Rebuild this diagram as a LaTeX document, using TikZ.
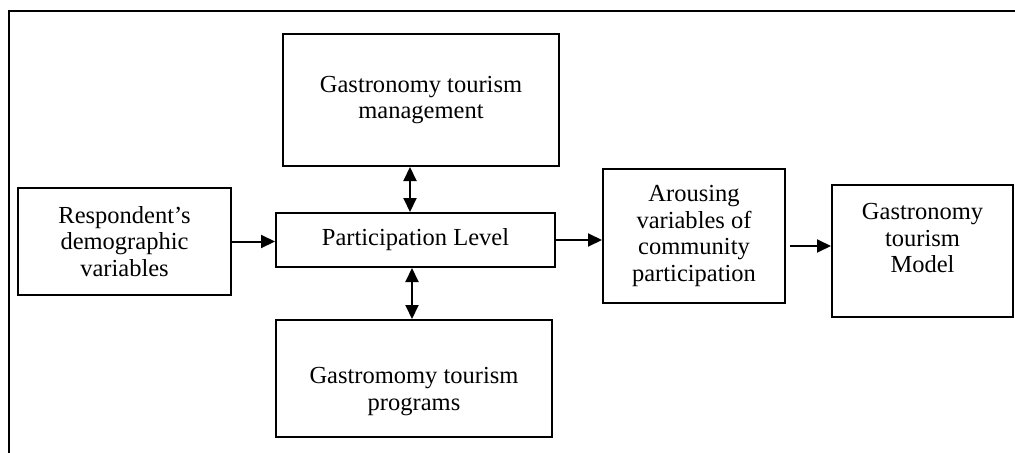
\documentclass[tikz,border=0pt]{standalone}
\usepackage{fontspec}
\setmainfont{Liberation Serif}
\usetikzlibrary{arrows.meta}

\begin{document}
\begin{tikzpicture}[every node/.style={font=\fontsize{24.6}{26.8}\selectfont},
						box/.style={draw,line width=2bp,align=center,inner sep=0pt},
						link/.style={line width=2bp,-{Triangle[length=14bp,width=13bp]}},
						both/.style={line width=2bp,{Triangle[length=14bp,width=13bp]}-{Triangle[length=14bp,width=13bp]}}]

		\useasboundingbox (0bp,0bp) rectangle (1015bp,-453bp);
		\draw[line width=2bp] (9bp,-453bp) -- (9bp,-11bp) -- (1015bp,-11bp);

		\node[box,minimum width=213bp,minimum height=107bp] (resp) at (124.5bp,-241.5bp) {Respondent’s\\demographic\\variables};
		\node[box,minimum width=279bp,minimum height=54bp] (part) at (415.5bp,-240.0bp) {Participation Level};
		\node[box,minimum width=276bp,minimum height=132bp] (mgmt) at (421.0bp,-100.0bp) {Gastronomy tourism\\management};
		\node[box,minimum width=276bp,minimum height=117bp] (prog) at (414.0bp,-378.5bp) {\rule{0pt}{42bp}Gastromomy tourism\\programs};
		\node[box,minimum width=182bp,minimum height=134bp] (arou) at (694.0bp,-236.0bp) {Arousing\\variables of\\community\\participation};
		\node[box,minimum width=181bp,minimum height=132bp] (model) at (922.5bp,-251.0bp) {Gastronomy\\tourism\\Model\rule[-26bp]{0pt}{0pt}};

		\draw[link] (resp.east) -- (resp.east -| part.west);
		\draw[link] (part.east) -- (part.east -| arou.west);
		\draw[link,shorten <=4bp] ([yshift=-10bp]arou.east) -- ([yshift=-10bp]arou.east -| model.west);
		\draw[both] (mgmt.south -| 410bp,0) -- (part.north -| 410bp,0);
		\draw[both] (part.south -| 412bp,0) -- (prog.north -| 412bp,0);

	\end{tikzpicture}
\end{document}
